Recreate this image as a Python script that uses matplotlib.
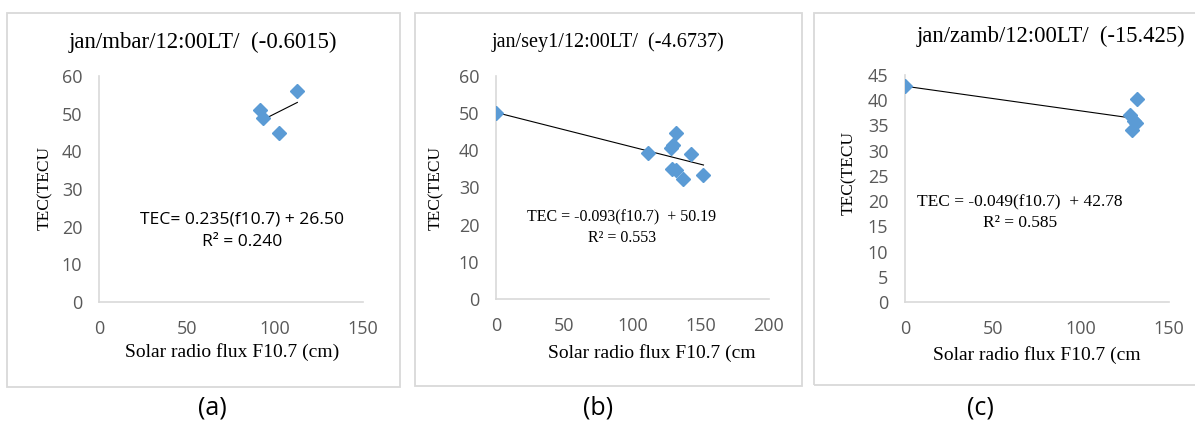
import matplotlib
matplotlib.use("Agg")
import matplotlib.pyplot as plt
from matplotlib.patches import Rectangle
import numpy as np

W, H = 1195, 423
DPI = 100

# ---- data ----
a_flux = [91.3, 93.2, 102.3, 112.7]
a_tec = [51.0, 48.8, 44.8, 56.1]
a_fit = (0.235, 26.50)

b_flux = [0, 111, 132, 128, 130, 143, 129, 132, 137, 152]
b_tec = [50.0, 39.4, 44.6, 40.5, 41.5, 38.9, 35.0, 34.6, 32.2, 33.4]
b_fit = (-0.093, 50.19)

c_flux = [0, 132, 128, 130, 131, 129]
c_tec = [42.8, 40.3, 37.0, 35.8, 35.4, 34.0]
c_fit = (-0.049, 42.78)

SERIF = "Liberation Serif"
SANS = "Open Sans"
BLUE = "#5b9bd5"
GRID = "#d9d9d9"
TICK = "#595959"


def px(x, y):
    return x / W, 1 - y / H


def make_panel(fig, box, axrect, xs, ys, fit, xmax, xstep, ymax, ystep,
               title, title_xy, title_size, ylab_xy, xlab, xlab_xy,
               eq, eq_xy, r2, r2_xy, eq_font, tag, tag_xy):
    bx0, by0, bx1, by1 = box
    fig.patches.append(Rectangle(px(bx0, by1), (bx1 - bx0) / W, (by1 - by0) / H,
                                 transform=fig.transFigure, fill=False,
                                 edgecolor=GRID, lw=1.3))
    l, t, r, b = axrect
    ax = fig.add_axes([l / W, 1 - b / H, (r - l) / W, (b - t) / H])
    xs = np.asarray(xs, float)
    xx = np.array([xs.min(), xs.max()])
    ax.plot(xx, fit[0] * xx + fit[1], color="black", lw=0.8, zorder=2)
    ax.plot(xs, ys, "D", color=BLUE, ms=7.5, mec=BLUE, zorder=3)
    ax.set_xlim(0, xmax)
    ax.set_ylim(0, ymax)
    ax.set_xticks(np.arange(0, xmax + 1, xstep))
    ax.set_yticks(np.arange(0, ymax + 1, ystep))
    for s in ["top", "right"]:
        ax.spines[s].set_visible(False)
    for s in ["left", "bottom"]:
        ax.spines[s].set_color(GRID)
        ax.spines[s].set_linewidth(1.2)
    ax.tick_params(length=0, labelsize=13, colors=TICK, labelcolor=TICK)
    ax.tick_params(axis="x", pad=13)
    ax.tick_params(axis="y", pad=12)
    for lab in ax.get_xticklabels() + ax.get_yticklabels():
        lab.set_fontfamily(SANS)
    ax.patch.set_alpha(0)

    fig.text(*px(*title_xy), title, ha="center", va="center",
             fontsize=title_size, family=SERIF)
    fig.text(*px(*ylab_xy), "TEC(TECU", ha="center", va="center",
             rotation=90, fontsize=12.5, family=SERIF)
    fig.text(*px(*xlab_xy), xlab, ha="center", va="center",
             fontsize=14, family=SERIF)
    fig.text(*px(*eq_xy), eq, ha="center", va="center", fontsize=eq_font[1],
             family=eq_font[0])
    fig.text(*px(*r2_xy), r2, ha="center", va="center", fontsize=eq_font[1],
             family=eq_font[0])
    fig.text(*px(*tag_xy), tag, ha="center", va="center", fontsize=18,
             family=SANS)
    return ax


fig = plt.figure(figsize=(W / DPI, H / DPI), dpi=DPI)

make_panel(fig, (7, 13, 400, 387), (99, 76, 363, 302), a_flux, a_tec, a_fit,
           150, 50, 60, 10,
           "jan/mbar/12:00LT/  (-0.6015)", (203, 42), 16.5, (45, 188),
           "Solar radio flux F10.7 (cm)", (232, 352),
           "TEC= 0.235(f10.7) + 26.50", (242, 219), "R² = 0.240", (242, 242),
           (SANS, 12.6), "(a)", (212, 408))

make_panel(fig, (415, 13, 802, 386), (496, 76, 769, 299), b_flux, b_tec, b_fit,
           200, 50, 60, 10,
           "jan/sey1/12:00LT/  (-4.6737)", (608, 42), 14.5, (436, 188),
           "Solar radio flux F10.7 (cm", (652, 353),
           "TEC = -0.093(f10.7)  + 50.19", (622, 217), "R² = 0.553", (622, 238),
           (SERIF, 11.5), "(b)", (598, 408))

make_panel(fig, (814, 13, 1200, 385), (905, 75, 1169, 302), c_flux, c_tec, c_fit,
           150, 50, 45, 5,
           "jan/zamb/12:00LT/  (-15.425)", (1051, 36), 16.3, (849, 173),
           "Solar radio flux F10.7 (cm", (1037, 355),
           "TEC = -0.049(f10.7)  + 42.78", (1020, 202), "R² = 0.585", (1020, 223),
           (SERIF, 12.5), "(c)", (980, 408))

fig.savefig("out.png", dpi=DPI)
